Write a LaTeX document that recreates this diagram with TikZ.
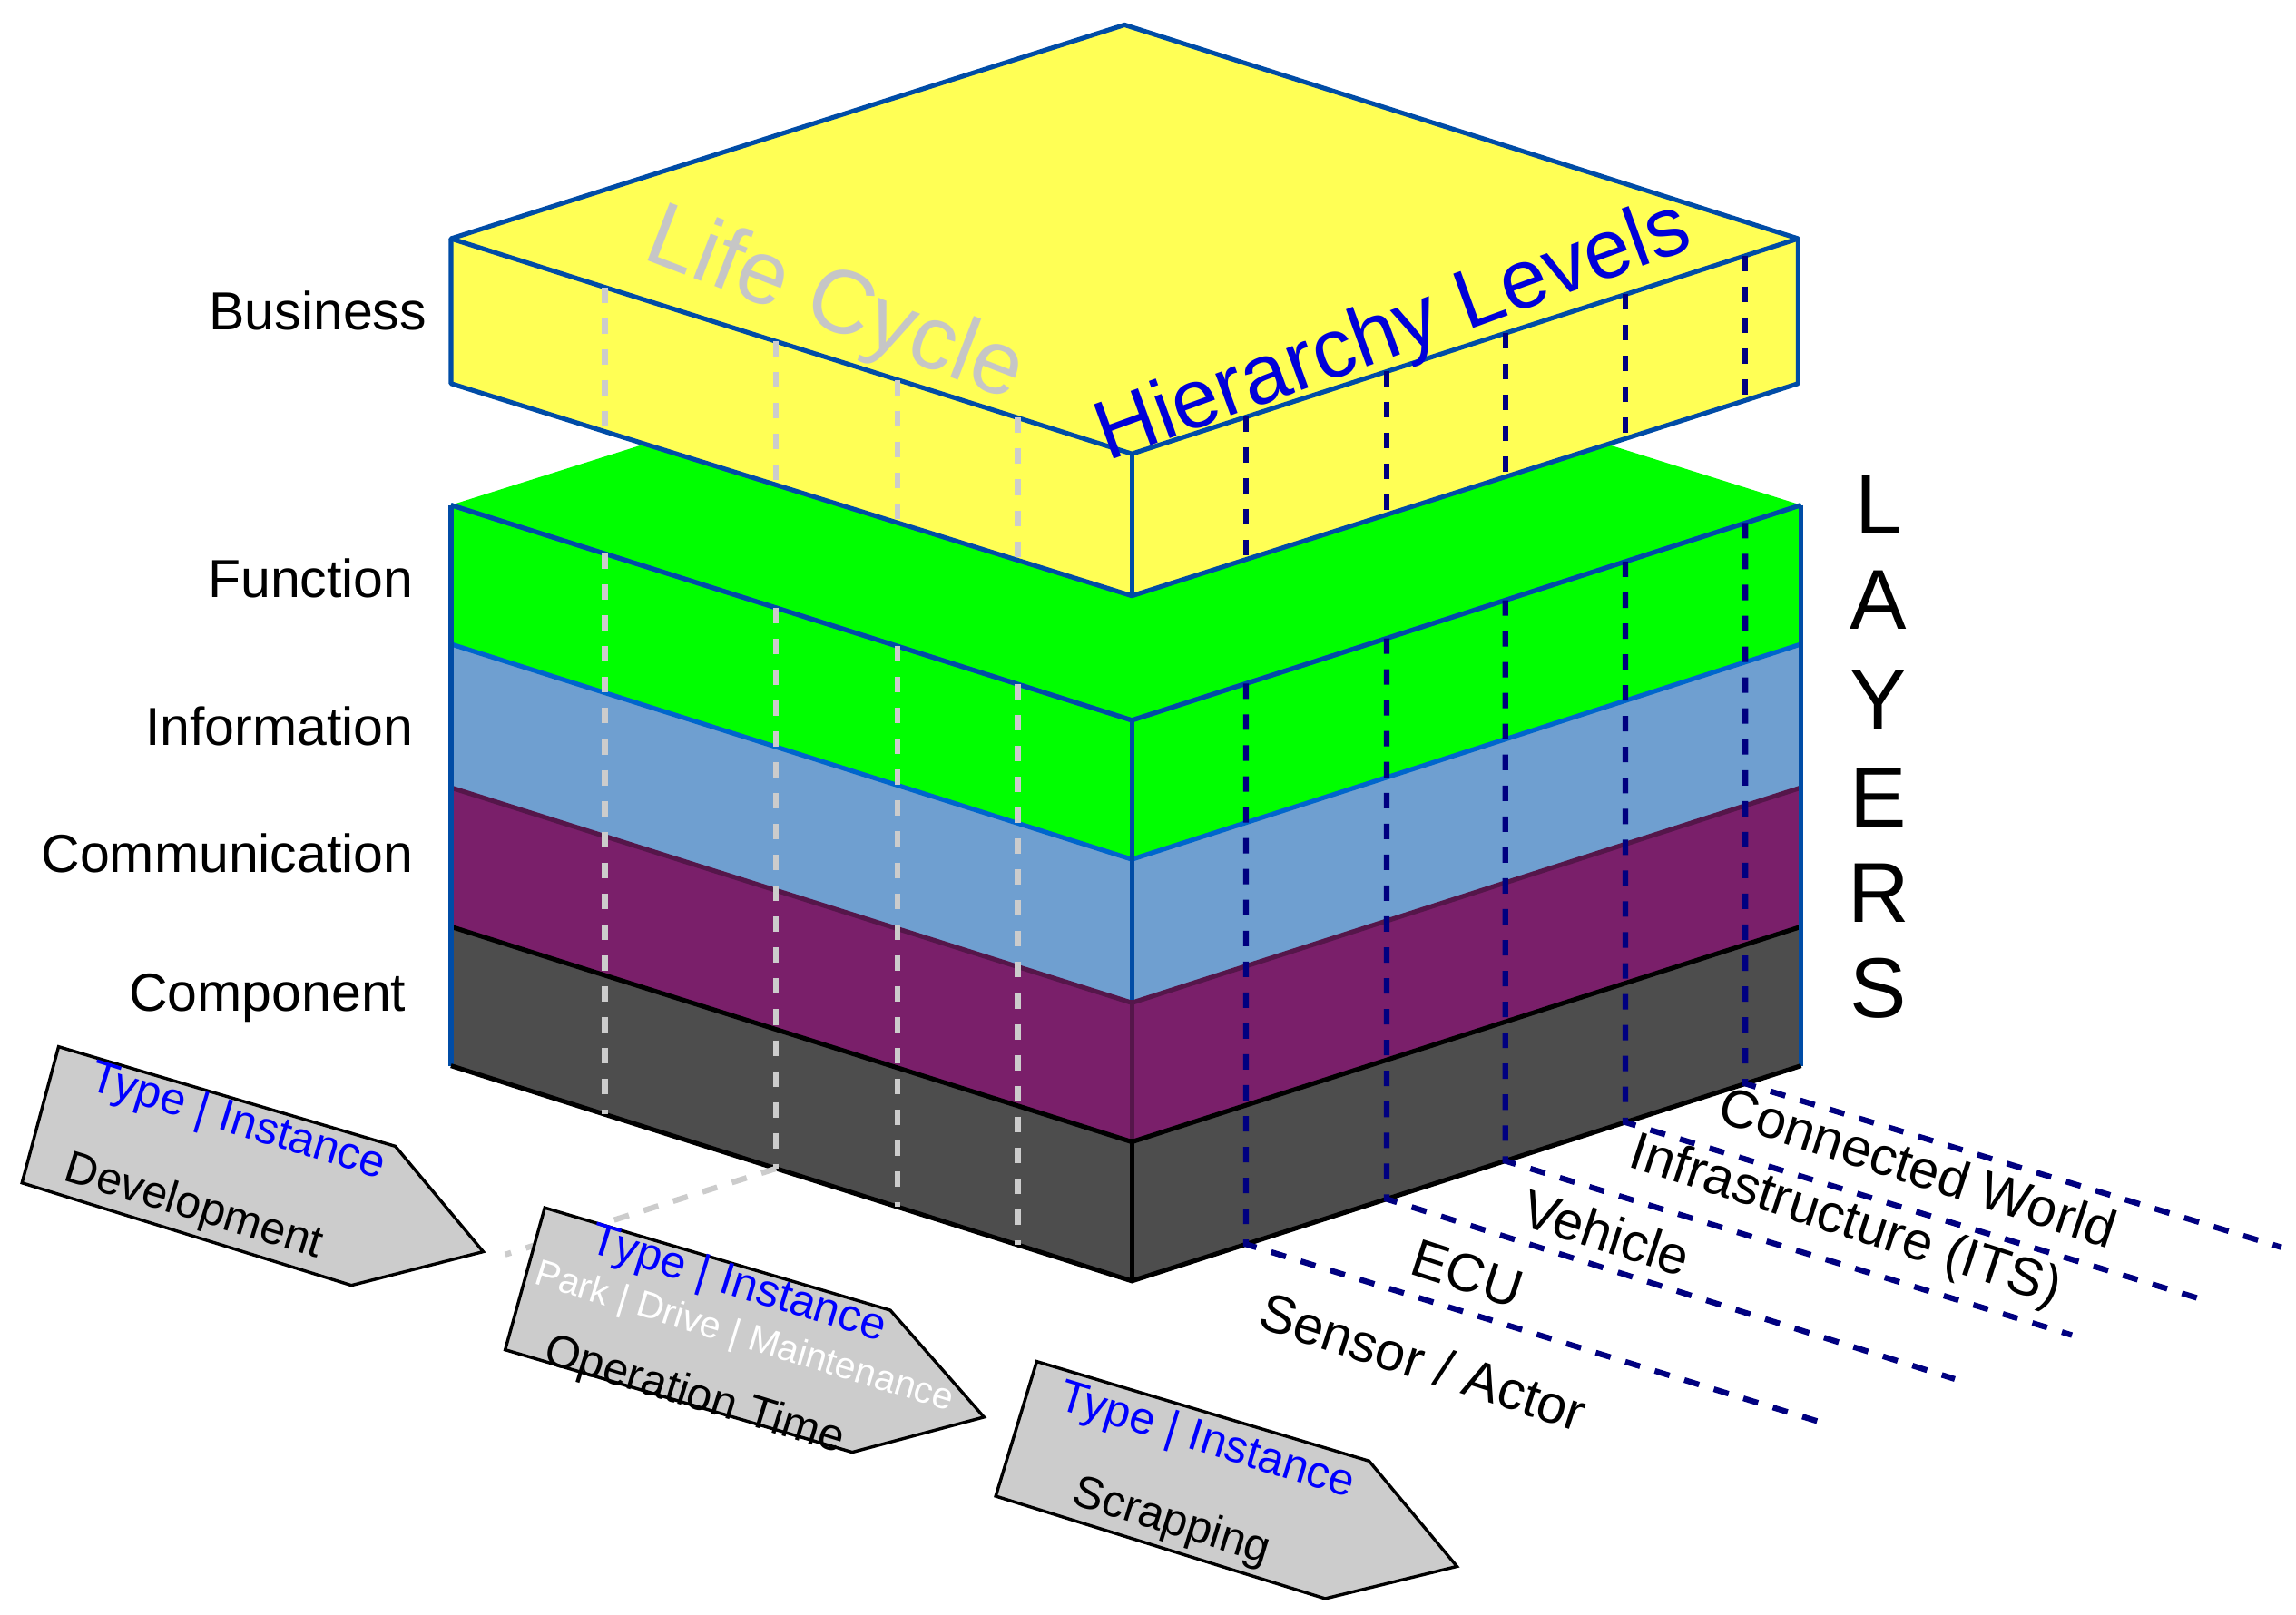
\documentclass[tikz,border=0pt]{standalone}
\usepackage{fontspec}
\setmainfont{Liberation Sans}
\begin{document}
\begin{tikzpicture}[x=0.01cm,y=-0.01cm,
  edge/.style={draw=blue!50!black!70!cyan, line width=0.9pt, line join=round},
  lcdash/.style={draw=gray!40, dashed, line width=1.1pt},
  hldash/.style={draw=blue!50!black, dashed, line width=1.1pt},
  lab/.style={font=\fontsize{10.4}{12}\selectfont, anchor=east, inner sep=0pt},
  lvl/.style={font=\fontsize{10.4}{12}\selectfont, rotate=-18},
  arr/.style={fill=gray!40, draw=black, line width=0.6pt},
  ti/.style={font=\fontsize{8.8}{10}\selectfont, text=blue, rotate=-17},
  ph/.style={font=\fontsize{8.8}{10}\selectfont, rotate=-17}]
\useasboundingbox (0,0) rectangle (1568,1103);
\definecolor{cyel}{HTML}{FFFF55}
\definecolor{cgrn}{HTML}{00FF00}
\definecolor{cblu}{HTML}{6F9FD0}
\definecolor{cpur}{HTML}{7A1F6A}
\definecolor{cgry}{HTML}{4D4D4D}
% lower stack
\fill[cgrn] (308,345)--(768,200)--(1230,345)--(773,492)--cycle;
\foreach \t/\b/\c/\e in {345/440/cgrn/blue!50!cyan!80!black, 440/538/cblu/blue!50!cyan!80!black, 538/633/cpur/cpur!70!black, 633/728/cgry/black}{
  \fill[\c] (308,\t)--(773,\t+147)--(1230,\t)--(1230,\b)--(773,\b+147)--(308,\b)--cycle;
  \draw[draw=\e, line width=0.9pt] (308,\t)--(773,\t+147)--(1230,\t);
}
\draw[edge] (308,345)--(308,728);
\draw[edge] (1230,345)--(1230,728);
\draw[edge] (773,492)--(773,683);
\draw[draw=cpur!70!black, line width=0.9pt] (773,683)--(773,778);
\draw[draw=black, line width=0.9pt] (773,778)--(773,875);
\draw[draw=black, line width=0.9pt] (308,728)--(773,875)--(1230,728);
\draw[edge] (308,345)--(773,492)--(1230,345);
% yellow box
\fill[cyel] (308,163)--(768,17)--(1228,163)--(1228,262)--(773,407)--(308,262)--cycle;
\draw[edge] (308,163)--(768,17)--(1228,163)--(773,310)--cycle;
\draw[edge] (308,163)--(308,262)--(773,407)--(1228,262)--(1228,163);
\draw[edge] (773,310)--(773,407);
% life cycle dashes
\foreach \x in {413,530,613,695}{
  \draw[lcdash] (\x,{163+(\x-308)*0.3161}) -- (\x,{262+(\x-308)*0.3161});
  \draw[lcdash] (\x,{345+(\x-308)*0.3161}) -- (\x,{728+(\x-308)*0.3161});
}
\coordinate (lcend) at (530,{728+222*0.3161});
\coordinate (lcfree) at (345,857);
\draw[lcdash] (lcend) -- (lcfree);
% hierarchy dashes
\foreach \x/\ex/\ey in {851/1245/972, 947/1335/942, 1028/1415/912, 1110/1505/888, 1192/1558/852}{
  \draw[hldash] (\x,{163+(1228-\x)*0.3217}) -- (\x,{262+(1228-\x)*0.3217});
  \draw[hldash] (\x,{345+(1230-\x)*0.3217}) -- (\x,{728+(1230-\x)*0.3217}) -- (\ex,\ey);
}
% big labels
\node[text=gray!45, font=\fontsize{17.5}{20}\selectfont, rotate=-21] (lc) at (570,210) {Life Cycle};
\node[text=blue!85!black, font=\fontsize{16.3}{20}\selectfont, rotate=20] (hl) at (952,228) {Hierarchy Levels};
\foreach \l/\y [count=\i] in {L/345,A/410,Y/478,E/545,R/610,S/675}
  \node[font=\fontsize{16.5}{18}\selectfont] (ly\i) at (1283,\y) {\l};
% layer labels
\node[lab] (b) at (292,212) {Business};
\node[lab] (f) at (283,395) {Function};
\node[lab] (i) at (283,496) {Information};
\node[lab] (c) at (283,583) {Communication};
\node[lab] (k) at (278,682) {Component};
% level labels
\node[lvl] (s1) at (972,930) {Sensor / Actor};
\node[lvl] (s2) at (1002,870) {ECU};
\node[lvl] (s3) at (1097,842) {Vehicle};
\node[lvl] (s4) at (1260,835) {Infrastructure (ITS)};
\node[lvl] (s5) at (1310,797) {Connected World};
% arrows
\draw[arr] (40,715)--(270,783)--(330,855)--(240,878)--(15,808)--cycle;
\node[ti] (t1) at (162,767) {Type | Instance};
\node[ph] (p1) at (132,825) {Development};
\draw[arr] (372,825)--(608,895)--(672,968)--(582,992)--(345,922)--cycle;
\node[ti] (t2) at (504,878) {Type | Instance};
\node[ph, text=white, font=\fontsize{7.2}{8}\selectfont] (w2) at (508,914) {Park | Drive | Maintenance};
\node[ph] (p2) at (474,954) {Operation Time};
\draw[arr] (708,930)--(935,998)--(995,1070)--(905,1092)--(680,1022)--cycle;
\node[ti] (t3) at (824,985) {Type | Instance};
\node[ph] (p3) at (800,1040) {Scrapping};
\end{tikzpicture}
\end{document}
